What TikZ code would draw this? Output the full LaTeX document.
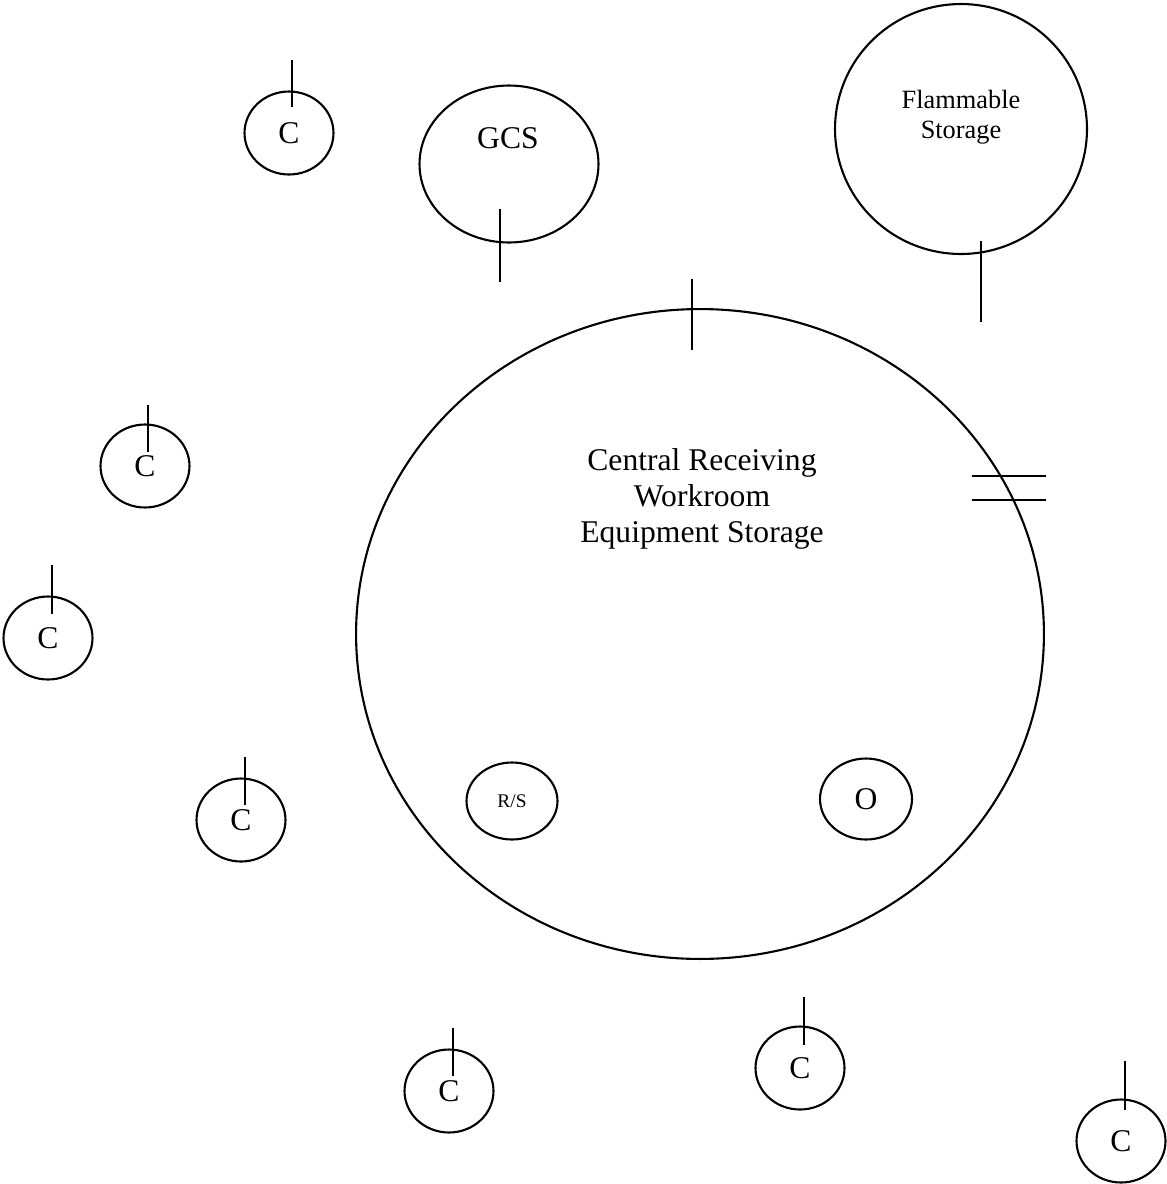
\documentclass[tikz,border=0pt]{standalone}
\usepackage{fontspec}
\setmainfont{Liberation Serif}
\usetikzlibrary{shapes.geometric}
\begin{document}
\begin{tikzpicture}[x=0.02cm,y=-0.02cm,
    area/.style={draw,ellipse,line width=1.2pt,inner sep=0pt,align=center},
    cbox/.style={area,minimum width=1.78cm,minimum height=1.66cm,font=\fontsize{18}{20}\selectfont},
    door/.style={line width=0.85pt}]
    \useasboundingbox (0,0) rectangle (1167,1184);
    % main room
    \node[area,minimum width=13.76cm,minimum height=13cm] (central) at (700,634) {};
    \node[align=center,font=\fontsize{18}{20.7}\selectfont] (centraltxt) at (702,499)
        {Central Receiving\\Workroom\\Equipment Storage};
    \node[area,minimum width=1.82cm,minimum height=1.54cm,font=\fontsize{11}{13}\selectfont] (rs) at (512,801) {R/S};
    \node[area,minimum width=1.84cm,minimum height=1.62cm,font=\fontsize{18}{20}\selectfont] (o) at (866,799) {O};
    % storage rooms
    \node[area,minimum width=3.58cm,minimum height=3.14cm] (gcs) at (509,164) {};
    \node[font=\fontsize{18}{20}\selectfont] (gcstxt) at (508,138) {GCS};
    \node[area,minimum width=5.04cm,minimum height=5cm] (flam) at (961,129) {};
    \node[align=center,font=\fontsize{15}{17.3}\selectfont] (flamtxt) at (961,117) {Flammable\\Storage};
    % small rooms
    \node[cbox] (c1) at (289,133) {C};
    \node[cbox] (c2) at (145,466) {C};
    \node[cbox] (c3) at (48,638) {C};
    \node[cbox] (c4) at (241,820) {C};
    \node[cbox] (c5) at (449,1091) {C};
    \node[cbox] (c6) at (800,1068) {C};
    \node[cbox] (c7) at (1121,1141) {C};
    % doors
    \draw[door] (692,279) -- (692,350);
    \draw[door] (972,476) -- (1046,476);
    \draw[door] (972,500) -- (1046,500);
    \draw[door] (500,209) -- (500,282);
    \draw[door] (981,241) -- (981,322);
    \draw[door] (292,60) -- (292,107);
    \draw[door] (148,405) -- (148,452);
    \draw[door] (52,565) -- (52,614);
    \draw[door] (245,757) -- (245,805);
    \draw[door] (453,1028) -- (453,1076);
    \draw[door] (804,997) -- (804,1045);
    \draw[door] (1125,1061) -- (1125,1110);
\end{tikzpicture}
\end{document}
